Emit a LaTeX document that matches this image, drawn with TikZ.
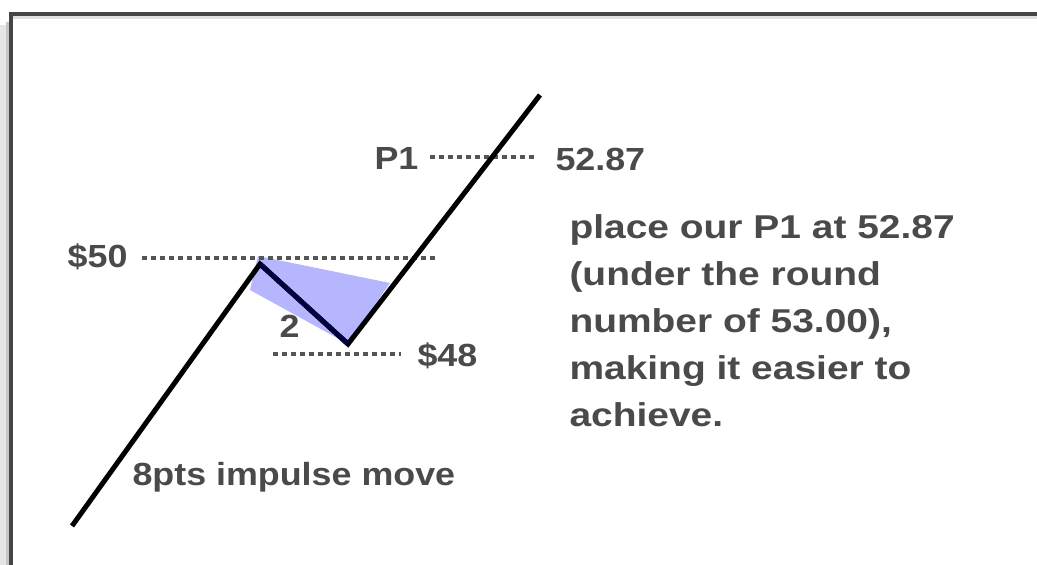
\documentclass[tikz,border=0pt]{standalone}
\usepackage{fontspec}
\newfontfamily\labelfont{Liberation Sans}[FakeStretch=1.12]
\newfontfamily\notefont{Liberation Sans}[FakeStretch=1.18]
\usetikzlibrary{positioning}
\definecolor{txtgray}{HTML}{4A4A4A}
\definecolor{dotgray}{HTML}{555555}
\definecolor{zonefill}{HTML}{B6B6FF}
\definecolor{legnavy}{HTML}{00003C}
\definecolor{framegray}{HTML}{454545}

\begin{document}
\begin{tikzpicture}[x=1pt, y=-1pt, line width=5pt,
  lbl/.style={font=\labelfont\bfseries\fontsize{32}{38}\selectfont, text=txtgray,
    inner sep=0pt, anchor=base west},
  note/.style={font=\notefont\bfseries\fontsize{33}{47}\selectfont, text=txtgray,
    inner sep=0pt, anchor=base west, align=left},
  dotline/.style={draw=dotgray, line width=4.5pt, dash pattern=on 5pt off 4pt}]
  \useasboundingbox (0,0) rectangle (1037,565);
  \fill[white] (0,0) rectangle (1037,565);
  \draw[gray!20, line width=9pt] (4.5,25) -- (4.5,565);
  \draw[gray!45, line width=3pt] (7.5,22) -- (7.5,565);
  \draw[gray!25, line width=3pt] (9,17) -- (1037,17);
  \draw[framegray, line width=3.5pt] (9,14) -- (1037,14);
  \draw[framegray, line width=3.5pt] (11,12.5) -- (11,565);
  \coordinate (start) at (72,526);
  \coordinate (peak) at (260,264);
  \coordinate (trough) at (348,344);
  \coordinate (top) at (540,95);
  \fill[zonefill] (258,256) -- (390,283) -- (trough) -- (250,290) -- cycle;
  \node[lbl] (p1) at (372,169) {P1};
  \node[lbl] (v5287) at (553,170) {52.87};
  \node[lbl, anchor=base east] (v50) at (130,267) {\$50};
  \node[lbl] (v48) at (415,366) {\$48};
  \node[lbl] (leg2) at (277,337) {2};
  \node[lbl] (move) at (130,485) {8pts impulse move};
  \node[note] (note) at (567,426) {place our P1 at 52.87\\(under the round\\number of 53.00),\\making it easier to\\achieve.};
  \coordinate (p1a) at (430,157);
  \coordinate (p1b) at (534,157);
  \coordinate (d50a) at (142,258);
  \coordinate (d50b) at (436,258);
  \coordinate (d48a) at (273,354);
  \coordinate (d48b) at (401,354);
  \draw[dotline] (p1a) -- (p1b);
  \draw[dotline] (d50a) -- (d50b);
  \draw[dotline] (d48a) -- (d48b);
  \draw[line join=miter] (start) -- (peak) -- (trough) -- (top);
  \draw[legnavy] (peak) -- (trough);
\end{tikzpicture}
\end{document}
